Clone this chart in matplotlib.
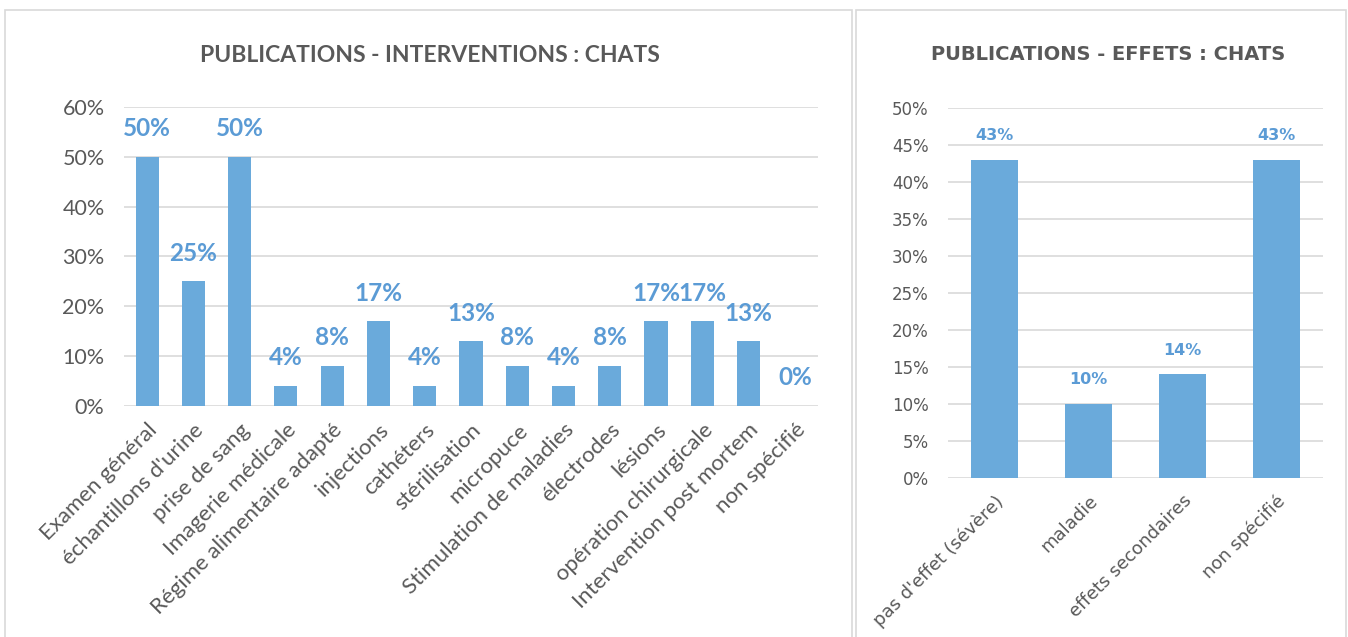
import numpy as np
import matplotlib.pyplot as plt
from matplotlib.patches import Rectangle

# data
interventions = ['Examen général', "échantillons d'urine", 'prise de sang', 'Imagerie médicale',
                 'Régime alimentaire adapté', 'injections', 'cathéters', 'stérilisation',
                 'micropuce', 'Stimulation de maladies', 'électrodes', 'lésions',
                 'opération chirurgicale', 'Intervention post mortem', 'non spécifié']
interventions_pct = [50, 25, 50, 4, 8, 17, 4, 13, 8, 4, 8, 17, 17, 13, 0]

effets = ["pas d'effet (sévère)", 'maladie', 'effets secondaires', 'non spécifié']
effets_pct = [43, 10, 14, 43]

bar_col = '#6AAADB'
lab_col = '#5B9BD5'
txt_col = '#595959'
grid_col = '#D9D9D9'

fig = plt.figure(figsize=(13.48, 6.37), dpi=100)

# panel frames
W, H = 1348, 637
for (x0, x1) in [(5, 852), (856, 1346)]:
    fig.patches.append(Rectangle((x0 / W, -0.01), (x1 - x0) / W, 1 - 10 / H + 0.01,
                                 transform=fig.transFigure, fill=False,
                                 edgecolor='#D9D9D9', lw=1.2))

# left chart
ax1 = fig.add_axes([124 / W, 1 - 406 / H, (818 - 124) / W, (406 - 107) / H])
x1 = np.arange(len(interventions))
ax1.bar(x1, interventions_pct, width=0.5, color=bar_col, zorder=3)
ax1.set_xlim(-0.5, len(interventions) - 0.5)
ax1.set_ylim(0, 60)
ax1.set_yticks(np.arange(0, 61, 10))
ax1.set_yticklabels([f'{v}%' for v in range(0, 61, 10)], fontsize=15.5, color=txt_col, family='Lato')
ax1.set_xticks(x1)
ax1.set_xticklabels(interventions, rotation=45, ha='right', rotation_mode='anchor',
                    fontsize=16, color=txt_col, family='Lato')
for v, xi in zip(interventions_pct, x1):
    ax1.annotate(f'{v}%', (xi, v), xytext=(0, 12), textcoords='offset points',
                 ha='center', va='bottom', fontsize=17.5, fontweight='bold',
                 color=lab_col, family='Lato')
fig.text(430 / W, 1 - 55 / H, 'PUBLICATIONS - INTERVENTIONS : CHATS', fontsize=16.5,
         fontweight='bold', color=txt_col, family='Lato', ha='center', va='center')

# right chart
ax2 = fig.add_axes([948 / W, 1 - 478 / H, (1323 - 948) / W, (478 - 108) / H])
x2 = np.arange(len(effets))
ax2.bar(x2, effets_pct, width=0.5, color=bar_col, zorder=3)
ax2.set_xlim(-0.5, len(effets) - 0.5)
ax2.set_ylim(0, 50)
ax2.set_yticks(np.arange(0, 51, 5))
ax2.set_yticklabels([f'{v}%' for v in range(0, 51, 5)], fontsize=12, color=txt_col,
                    family='DejaVu Sans')
ax2.set_xticks(x2)
ax2.set_xticklabels(effets, rotation=45, ha='right', rotation_mode='anchor',
                    fontsize=13, color=txt_col, family='DejaVu Sans')
for v, xi in zip(effets_pct, x2):
    ax2.annotate(f'{v}%', (xi, v), xytext=(0, 12), textcoords='offset points',
                 ha='center', va='bottom', fontsize=11.5, fontweight='bold',
                 color=lab_col, family='DejaVu Sans')
fig.text(1108 / W, 1 - 55 / H, 'PUBLICATIONS - EFFETS : CHATS', fontsize=14,
         fontweight='bold', color=txt_col, family='DejaVu Sans', ha='center', va='center')

for ax in (ax1, ax2):
    for s in ax.spines.values():
        s.set_visible(False)
    ax.tick_params(length=0)
    ax.tick_params(axis='y', pad=14)
    ax.tick_params(axis='x', pad=10)
    ax.grid(axis='y', color=grid_col, lw=1.2, zorder=0)
    ax.set_axisbelow(True)

fig.savefig('out.png', dpi=100, facecolor='white')
